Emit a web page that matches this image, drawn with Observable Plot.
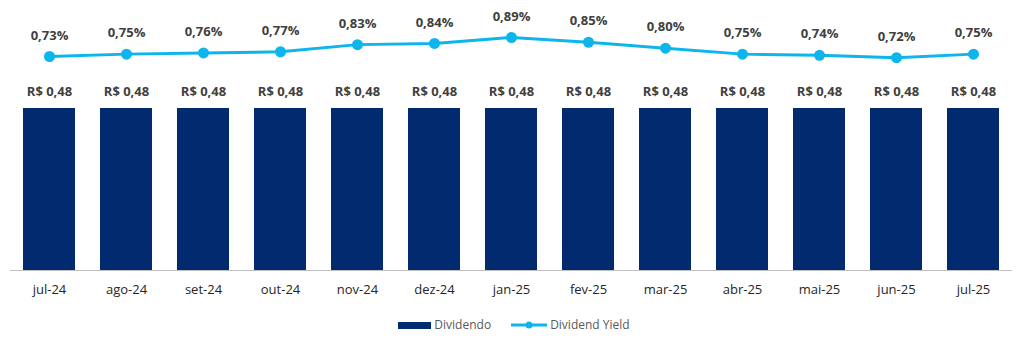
<!DOCTYPE html>
<html><head><meta charset="utf-8">
<script src="https://cdn.jsdelivr.net/npm/d3@7"></script>
<script src="https://cdn.jsdelivr.net/npm/@observablehq/plot@0.6"></script>
<style>
body{margin:0;background:#fff;font-family:"Open Sans",sans-serif;}
#legend{display:flex;justify-content:center;align-items:center;gap:20px;font-size:12px;line-height:14px;color:#595959;margin-top:8px;padding-left:4px}
#legend .item{display:flex;align-items:center}
#legend svg{display:block;margin-right:3px}
</style></head>
<body>
<div id="chart"></div>
<div id="legend">
<div class="item"><svg width="33" height="9"><rect x="0" y="1" width="33" height="7" fill="#012B6E"/></svg><div>Dividendo</div></div>
<div class="item"><svg width="36" height="10"><line x1="0" x2="36" y1="5" y2="5" stroke="#0DB5EC" stroke-width="3"/><circle cx="18" cy="5" r="3.5" fill="#0DB5EC"/></svg><div>Dividend Yield</div></div>
</div>
<script>
const months = ["jul-24","ago-24","set-24","out-24","nov-24","dez-24","jan-25","fev-25","mar-25","abr-25","mai-25","jun-25","jul-25"];
const dividendo = [0.48,0.48,0.48,0.48,0.48,0.48,0.48,0.48,0.48,0.48,0.48,0.48,0.48];
const dividendYield = [0.73,0.75,0.76,0.77,0.83,0.84,0.89,0.85,0.80,0.75,0.74,0.72,0.75];

const navy = "#012B6E", cyan = "#0DB5EC";
// secondary axis mapping for the yield line (in dividend-axis units)
const toPrimary = v => (270 - (56 - (v - 0.73) * 118.75)) / 337.5;

const data = months.map((m, i) => ({m, div: dividendo[i], dy: dividendYield[i], dyPos: toPrimary(dividendYield[i])}));
const fmt = v => v.toFixed(2).replace(".", ",");

const chart = Plot.plot({
  width: 1024, height: 310,
  marginLeft: 10, marginRight: 12, marginTop: 0, marginBottom: 40,
  style: {fontFamily: "Open Sans, sans-serif", background: "#fff"},
  x: {domain: months, paddingInner: 0.33, paddingOuter: 0.157, label: null},
  y: {domain: [0, 0.48], range: [270, 108], axis: null},
  marks: [
    Plot.barY(data, {x: "m", y: "div", fill: navy}),
    Plot.ruleY([0], {stroke: "#BFBFBF", strokeWidth: 1}),
    Plot.axisX({tickSize: 0, tickPadding: 14, fontSize: 13, fill: "#262626", label: null}),
    Plot.text(data, {x: "m", y: "div", text: d => "R$ " + fmt(d.div), dy: -17, fontSize: 13, fontWeight: "bold", fill: "#404040"}),
    Plot.line(data, {x: "m", y: "dyPos", stroke: cyan, strokeWidth: 3}),
    Plot.dot(data, {x: "m", y: "dyPos", fill: cyan, r: 5.5}),
    Plot.text(data, {x: "m", y: "dyPos", text: d => fmt(d.dy) + "%", dy: -21, fontSize: 13, fontWeight: "bold", fill: "#404040"})
  ]
});
document.getElementById("chart").append(chart);
</script>
</body></html>
